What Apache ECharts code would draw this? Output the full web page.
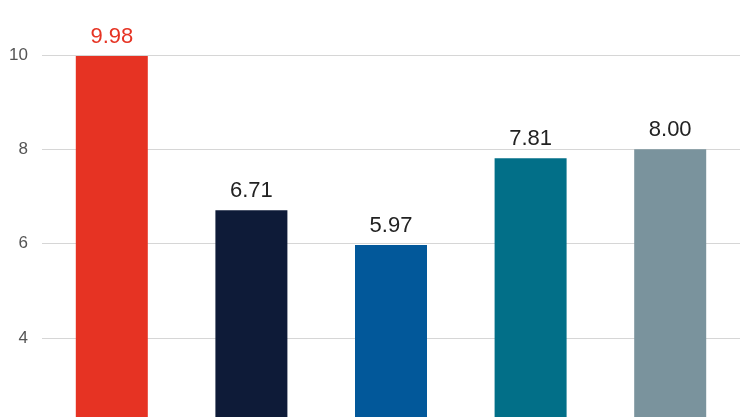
<!DOCTYPE html>
<html>
<head>
<meta charset="utf-8">
<script src="https://cdn.jsdelivr.net/npm/echarts@6/dist/echarts.min.js"></script>
<style>html,body{margin:0;background:#fff}#c{width:740px;height:417px}</style>
</head>
<body>
<div id="c"></div>
<script>
const categories = ['A', 'B', 'C', 'D', 'E']
const values = [9.98, 6.71, 5.97, 7.81, 8.00]
const colors = ['#e63323', '#0e1b38', '#02589a', '#026f88', '#7a939d']
const labelColors = ['#e63323', '#222', '#222', '#222', '#222']
const ticks = [4, 6, 8, 10]

echarts.init(document.getElementById('c')).setOption({
  animation: false,
  grid: { left: 42, right: 0, top: 0, bottom: 0 },
  xAxis: {
    type: 'category',
    data: categories,
    axisLine: { show: false },
    axisTick: { show: false },
    axisLabel: { show: false },
  },
  yAxis: {
    type: 'value',
    min: 2.32,
    max: 11.17,
    axisTick: { show: false, customValues: ticks },
    axisLabel: {
      customValues: ticks,
      margin: 14,
      fontSize: 17,
      color: '#555',
      fontFamily: 'Liberation Sans, sans-serif',
    },
    splitLine: { lineStyle: { color: '#d6d6d6', width: 1 } },
  },
  series: [{
    type: 'bar',
    barWidth: 72,
    data: values.map((v, i) => ({
      value: v,
      itemStyle: { color: colors[i] },
      label: { color: labelColors[i] },
    })),
    label: {
      show: true,
      position: 'top',
      distance: 8,
      fontSize: 22,
      fontFamily: 'Liberation Sans, sans-serif',
      formatter: p => p.value.toFixed(2),
    },
  }],
})
</script>
</body>
</html>
